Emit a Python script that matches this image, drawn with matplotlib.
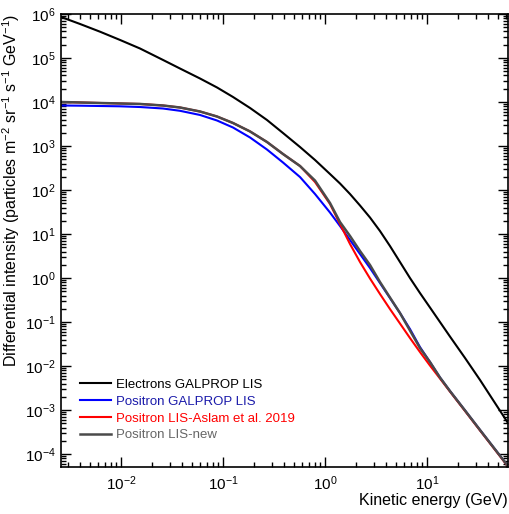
import matplotlib
matplotlib.use("Agg")
import matplotlib.pyplot as plt
from matplotlib.ticker import FixedLocator, LogFormatterSciNotation, NullFormatter

plt.rcParams['font.family'] = ['Liberation Sans', 'DejaVu Sans']
plt.rcParams['mathtext.default'] = 'regular'

# Kinetic energy (GeV) at which the curves were read
energy = [2.582e-3, 3.963e-3, 6.223e-3, 9.777e-3, 1.535e-2, 2.582e-2, 3.784e-2,
          5.950e-2, 8.73e-2, 0.1253, 0.1841, 0.2698, 0.3873, 0.5689, 0.7980,
          1.119, 1.403, 1.758, 2.203, 2.761, 3.459, 4.335, 5.433, 6.808, 8.531,
          10.69, 13.40, 16.79, 23.60, 33.11, 45.39, 62.23]

# Electrons GALPROP LIS
electron_galprop = [8.55e5, 5.93e5, 3.96e5, 2.57e5, 1.644e5, 9.02e4, 5.77e4,
                    3.42e4, 2.14e4, 1.30e4, 7.31e3, 3.90e3, 1.974e3, 948, 481,
                    231, 140.6, 81.1, 44.5, 23.7, 11.7, 5.33, 2.31, 1.0, 0.456,
                    0.214, 0.1, 0.0468, 0.0152, 4.81e-3, 1.56e-3, 5.07e-4]

# Positron GALPROP LIS
positron_galprop = [8.32e3, 8.24e3, 8.11e3, 7.98e3, 7.69e3, 7.11e3, 6.31e3,
                    5.07e3, 3.80e3, 2.63e3, 1.56e3, 832, 422, 197, 81.1,
                    30.8, 15.2, 7.31, 3.51, 1.687, 0.769, 0.351, 0.160, 0.0693, 0.0270,
                    0.01233, 5.48e-3, 2.70e-3, 9.75e-4, 3.51e-4, 1.368e-4, 5.33e-5]

# Positron LIS - Aslam et al. 2019
positron_aslam = [1.0e4, 9.75e3, 9.49e3, 9.25e3, 9.02e3, 8.32e3, 7.50e3,
                  6.08e3, 4.68e3, 3.33e3, 2.14e3, 1.233e3, 658, 351, 152,
                  48.1, 16.9, 5.93, 2.31, 0.975, 0.433, 0.197, 0.0925, 0.0433, 0.0208,
                  0.01026, 5.20e-3, 2.63e-3, 9.48e-4, 3.42e-4, 1.334e-4, 5.20e-5]

# Positron LIS - new
positron_new = [1.0e4, 9.75e3, 9.49e3, 9.25e3, 9.02e3, 8.32e3, 7.50e3,
                6.08e3, 4.68e3, 3.33e3, 2.14e3, 1.233e3, 658, 351, 164,
                50.7, 18.7, 9.02, 4.11, 1.974, 0.811, 0.360, 0.160, 0.0641, 0.0256,
                0.01233, 5.48e-3, 2.70e-3, 9.75e-4, 3.51e-4, 1.368e-4, 5.33e-5]

labels = ["Electrons GALPROP LIS", "Positron GALPROP LIS",
          "Positron LIS-Aslam et al. 2019", "Positron LIS-new"]
line_colors = ['black', '#0000ff', '#ff0000', '#4a4a4a']
text_colors = ['black', '#1a1aaa', '#ff0000', '#666666']

x_major = [1e-2, 1e-1, 1e0, 1e1]
y_major = [1e-4, 1e-3, 1e-2, 1e-1, 1e0, 1e1, 1e2, 1e3, 1e4, 1e5, 1e6]

fig = plt.figure(figsize=(5.09, 5.14), dpi=100)
ax = fig.add_axes([0.1198, 0.0914, 0.8782, 0.8814])

ax.plot(energy, electron_galprop, color=line_colors[0], lw=1.5, label=labels[0])
ax.plot(energy, positron_galprop, color=line_colors[1], lw=1.5, label=labels[1])
ax.plot(energy, positron_aslam, color=line_colors[2], lw=1.5, label=labels[2])
ax.plot(energy, positron_new, color=line_colors[3], lw=1.8, label=labels[3])

ax.set_xscale('log')
ax.set_yscale('log')
ax.set_xlim(0.00258, 62.2)
ax.set_ylim(5.07e-5, 1e6)

x_minor = [m * d for d in [1e-3, 1e-2, 1e-1, 1e0, 1e1] for m in range(2, 10)]
y_minor = [m * d for d in [1e-5, 1e-4, 1e-3, 1e-2, 1e-1, 1e0, 1e1, 1e2, 1e3, 1e4, 1e5] for m in range(2, 10)]
x_minor = [v for v in x_minor if 0.00258 <= v <= 62.2]
y_minor = [v for v in y_minor if 5.07e-5 <= v <= 1e6]
ax.xaxis.set_major_locator(FixedLocator(x_major))
ax.yaxis.set_major_locator(FixedLocator(y_major))
ax.xaxis.set_minor_locator(FixedLocator(x_minor))
ax.yaxis.set_minor_locator(FixedLocator(y_minor))
ax.xaxis.set_minor_formatter(NullFormatter())
ax.yaxis.set_minor_formatter(NullFormatter())
ax.xaxis.set_major_formatter(LogFormatterSciNotation())
ax.yaxis.set_major_formatter(LogFormatterSciNotation())

ax.tick_params(which='both', direction='in', top=True, right=True, labelsize=11, width=1)
ax.tick_params(which='major', length=7.5, pad=4)
ax.tick_params(which='minor', length=3.8)
ax.tick_params(axis='x', which='major', pad=5)
for s in ax.spines.values():
    s.set_linewidth(1.2)

ax.set_xlabel("Kinetic energy (GeV)", fontsize=11.5, loc='right', labelpad=0)
ax.set_ylabel("Differential intensity (particles m$^{-2}$ sr$^{-1}$ s$^{-1}$ GeV$^{-1}$)",
              fontsize=11.5, loc='top', labelpad=2)

leg = ax.legend(loc='upper left', bbox_to_anchor=(0.023, 0.215), frameon=False,
                fontsize=9.5, handlelength=2.3, handletextpad=0.4, labelspacing=0.34,
                borderpad=0.2, labelcolor=text_colors)

fig.savefig("out.png", dpi=100)
